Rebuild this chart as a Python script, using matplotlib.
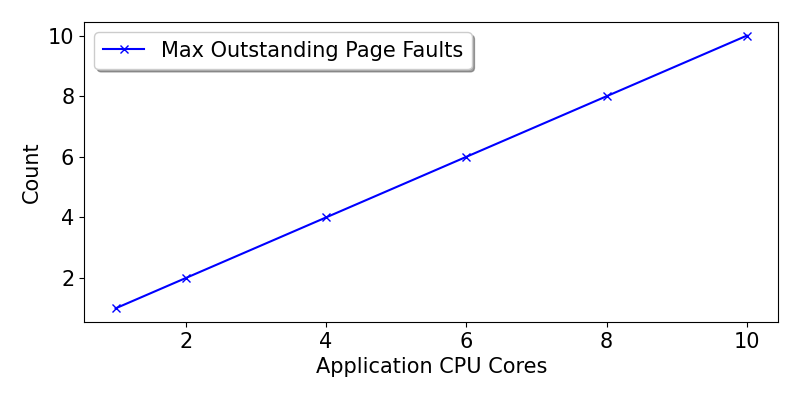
import matplotlib.pyplot as plt

cores = [1, 2, 4, 6, 8, 10]
max_faults = [1, 2, 4, 6, 8, 10]

plt.rcParams['font.size'] = 15

fig, ax = plt.subplots(figsize=(8, 4), dpi=100)
ax.plot(cores, max_faults, color='blue', marker='x', label='Max Outstanding Page Faults')

ax.set_xlabel('Application CPU Cores')
ax.set_ylabel('Count')
ax.set_xticks([2, 4, 6, 8, 10])
ax.set_yticks([2, 4, 6, 8, 10])
ax.legend(loc='upper left', shadow=True, framealpha=1)

plt.subplots_adjust(left=0.105, right=0.973, top=0.945, bottom=0.195)
plt.savefig('out.png')
